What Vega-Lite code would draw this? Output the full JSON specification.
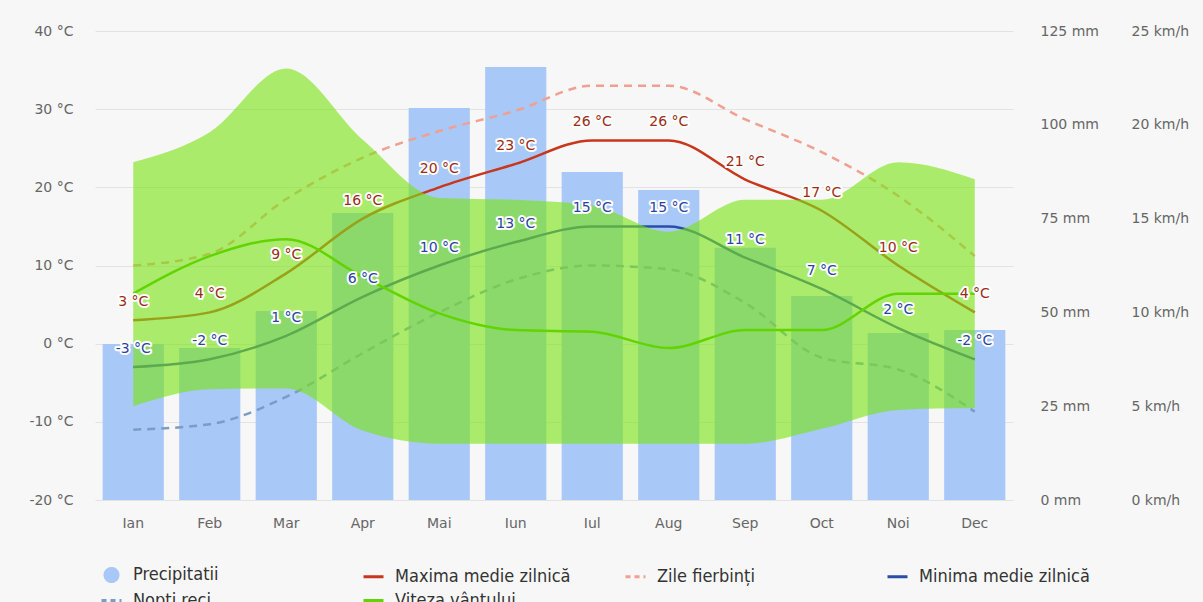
{
  "$schema": "https://vega.github.io/schema/vega-lite/v6.json",
  "autosize": "none",
  "width": 918,
  "height": 469,
  "padding": {"left": 95, "top": 31, "right": 190, "bottom": 102},
  "background": "#f7f7f7",
  "title": {"text": "Soiuri mai reduse decât celelalte zone.", "anchor": "start", "frame": "group", "dx": -95, "offset": 26, "baseline": "alphabetic", "fontSize": 18, "fontWeight": "normal", "font": "DejaVu Sans", "color": "#111"},
  "config": {"view": {"stroke": null}, "axis": {"labelFont": "DejaVu Sans", "labelColor": "#666", "labelFontSize": 14, "ticks": false, "domain": false, "title": null}},
  "data": {"values": [
    {"m": "Ian", "precip": 41.6, "tmax": 3, "tmin": -3, "hot": 10, "cold": -11, "wind": 11.0, "wmin": 5.0, "wmax": 18.0},
    {"m": "Feb", "precip": 40.5, "tmax": 4, "tmin": -2, "hot": 11.5, "cold": -10.3, "wind": 13.0, "wmin": 5.9, "wmax": 19.6},
    {"m": "Mar", "precip": 50.4, "tmax": 9, "tmin": 1, "hot": 18.5, "cold": -6.8, "wind": 13.9, "wmin": 5.95, "wmax": 23.0},
    {"m": "Apr", "precip": 76.5, "tmax": 16, "tmin": 6, "hot": 23.8, "cold": -1.2, "wind": 11.9, "wmin": 3.7, "wmax": 19.2},
    {"m": "Mai", "precip": 104.5, "tmax": 20, "tmin": 10, "hot": 27.2, "cold": 4, "wind": 9.95, "wmin": 3.0, "wmax": 16.1},
    {"m": "Iun", "precip": 115.4, "tmax": 23, "tmin": 13, "hot": 29.8, "cold": 8.2, "wind": 9.06, "wmin": 3.0, "wmax": 16.0},
    {"m": "Iul", "precip": 87.4, "tmax": 26, "tmin": 15, "hot": 33, "cold": 10, "wind": 8.97, "wmin": 3.0, "wmax": 15.7},
    {"m": "Aug", "precip": 82.6, "tmax": 26, "tmin": 15, "hot": 33, "cold": 9.5, "wind": 8.1, "wmin": 3.0, "wmax": 14.3},
    {"m": "Sep", "precip": 67.2, "tmax": 21, "tmin": 11, "hot": 28.7, "cold": 5.2, "wind": 9.06, "wmin": 3.0, "wmax": 16.0},
    {"m": "Oct", "precip": 54.4, "tmax": 17, "tmin": 7, "hot": 24.5, "cold": -1.8, "wind": 9.06, "wmin": 3.8, "wmax": 16.0},
    {"m": "Noi", "precip": 44.5, "tmax": 10, "tmin": 2, "hot": 18.9, "cold": -3.3, "wind": 11.0, "wmin": 4.8, "wmax": 18.0},
    {"m": "Dec", "precip": 45.3, "tmax": 4, "tmin": -2, "hot": 11.2, "cold": -8.7, "wind": 11.0, "wmin": 4.9, "wmax": 17.1}
  ]},
  "encoding": {
    "x": {"field": "m", "type": "nominal", "sort": null, "scale": {"paddingInner": 0.2, "paddingOuter": 0.1}, "axis": {"orient": "bottom", "labelAngle": 0, "labelPadding": 16, "grid": false}}
  },
  "layer": [
    {
      "mark": {"type": "bar"},
      "encoding": {
        "y": {"field": "precip", "type": "quantitative", "scale": {"domain": [0, 125], "nice": false}, "axis": {"orient": "right", "values": [0, 25, 50, 75, 100, 125], "labelExpr": "datum.value + ' mm'", "labelPadding": 27, "labelAlign": "left", "grid": false}},
        "color": {"datum": "Precipitatii", "type": "nominal",
          "scale": {"domain": ["Precipitatii", "Maxima medie zilnică", "Zile fierbinți", "Minima medie zilnică", "Nopți reci", "Viteza vântului"], "range": ["#a8c8f8", "#c8361c", "#f0a090", "#2a4ea8", "#7b9cc4", "#62d400"]},
          "legend": {"orient": "none", "legendX": 5, "legendY": 532, "direction": "horizontal", "columns": 4, "gridAlign": "all", "columnPadding": 48, "rowPadding": 1, "title": null, "labelFont": "DejaVu Sans Condensed, Liberation Sans Narrow, sans-serif", "labelFontSize": 18, "labelLimit": 400, "labelColor": "#333", "labelOffset": 10, "symbolSize": 400, "symbolType": "stroke", "symbolStrokeWidth": 3,
            "encode": {"symbols": {"update": {
              "shape": {"signal": "datum.value === 'Precipitatii' ? 'circle' : 'stroke'"},
              "size": {"signal": "datum.value === 'Precipitatii' ? 170 : 400"},
              "fill": {"signal": "datum.value === 'Precipitatii' ? '#a8c8f8' : 'transparent'"},
              "stroke": {"signal": "datum.value === 'Precipitatii' ? 'transparent' : scale('color', datum.value)"},
              "strokeDash": {"signal": "(datum.value === 'Zile fierbinți' || datum.value === 'Nopți reci') ? [5, 4] : [1, 0]"},
              "strokeWidth": {"value": 3},
              "opacity": {"value": 1}
            }}}
          }
        }
      }
    },
    {
      "mark": {"type": "line", "interpolate": "monotone", "strokeWidth": 2.5, "strokeDash": [8, 6]},
      "encoding": {
        "y": {"field": "hot", "type": "quantitative", "scale": {"domain": [-20, 40], "nice": false, "zero": false}, "axis": null},
        "color": {"datum": "Zile fierbinți", "type": "nominal"}
      }
    },
    {
      "mark": {"type": "line", "interpolate": "monotone", "strokeWidth": 2.5, "strokeDash": [8, 6]},
      "encoding": {
        "y": {"field": "cold", "type": "quantitative", "scale": {"domain": [-20, 40], "nice": false, "zero": false}, "axis": null},
        "color": {"datum": "Nopți reci", "type": "nominal"}
      }
    },
    {
      "mark": {"type": "line", "interpolate": "monotone", "strokeWidth": 2.5},
      "encoding": {
        "y": {"field": "tmax", "type": "quantitative", "scale": {"domain": [-20, 40], "nice": false, "zero": false}, "axis": {"orient": "left", "values": [-20, -10, 0, 10, 20, 30, 40], "labelExpr": "datum.value + ' °C'", "labelPadding": 22, "grid": true, "gridColor": "#e3e3e3", "gridWidth": 1}},
        "color": {"datum": "Maxima medie zilnică", "type": "nominal"}
      }
    },
    {
      "mark": {"type": "line", "interpolate": "monotone", "strokeWidth": 2.5},
      "encoding": {
        "y": {"field": "tmin", "type": "quantitative", "scale": {"domain": [-20, 40], "nice": false, "zero": false}, "axis": null},
        "color": {"datum": "Minima medie zilnică", "type": "nominal"}
      }
    },
    {
      "mark": {"type": "area", "interpolate": "monotone", "color": "#7be415", "opacity": 0.62},
      "encoding": {
        "y": {"field": "wmin", "type": "quantitative", "scale": {"domain": [0, 25], "nice": false}, "axis": null},
        "y2": {"field": "wmax"}
      }
    },
    {
      "mark": {"type": "line", "interpolate": "monotone", "strokeWidth": 2.5},
      "encoding": {
        "y": {"field": "wind", "type": "quantitative", "scale": {"domain": [0, 25], "nice": false}, "axis": {"orient": "right", "offset": 91, "values": [0, 5, 10, 15, 20, 25], "labelExpr": "datum.value + ' km/h'", "labelPadding": 27, "labelAlign": "left", "grid": false}},
        "color": {"datum": "Viteza vântului", "type": "nominal"}
      }
    },
    {
      "mark": {"type": "text", "dy": -18, "font": "DejaVu Sans", "fontSize": 14, "stroke": "white", "strokeWidth": 4, "strokeJoin": "round", "fill": "white", "text": {"expr": "datum.tmax + ' °C'"}},
      "encoding": {
        "y": {"field": "tmax", "type": "quantitative", "scale": {"domain": [-20, 40], "nice": false, "zero": false}, "axis": null}
      }
    },
    {
      "mark": {"type": "text", "dy": -18, "font": "DejaVu Sans", "fontSize": 14, "fill": "#9a2c14", "text": {"expr": "datum.tmax + ' °C'"}},
      "encoding": {
        "y": {"field": "tmax", "type": "quantitative", "scale": {"domain": [-20, 40], "nice": false, "zero": false}, "axis": null}
      }
    },
    {
      "mark": {"type": "text", "dy": -18, "font": "DejaVu Sans", "fontSize": 14, "stroke": "white", "strokeWidth": 4, "strokeJoin": "round", "fill": "white", "text": {"expr": "datum.tmin + ' °C'"}},
      "encoding": {
        "y": {"field": "tmin", "type": "quantitative", "scale": {"domain": [-20, 40], "nice": false, "zero": false}, "axis": null}
      }
    },
    {
      "mark": {"type": "text", "dy": -18, "font": "DejaVu Sans", "fontSize": 14, "fill": "#2a45a0", "text": {"expr": "datum.tmin + ' °C'"}},
      "encoding": {
        "y": {"field": "tmin", "type": "quantitative", "scale": {"domain": [-20, 40], "nice": false, "zero": false}, "axis": null}
      }
    }
  ],
  "resolve": {"scale": {"y": "independent"}, "axis": {"y": "independent"}}
}
